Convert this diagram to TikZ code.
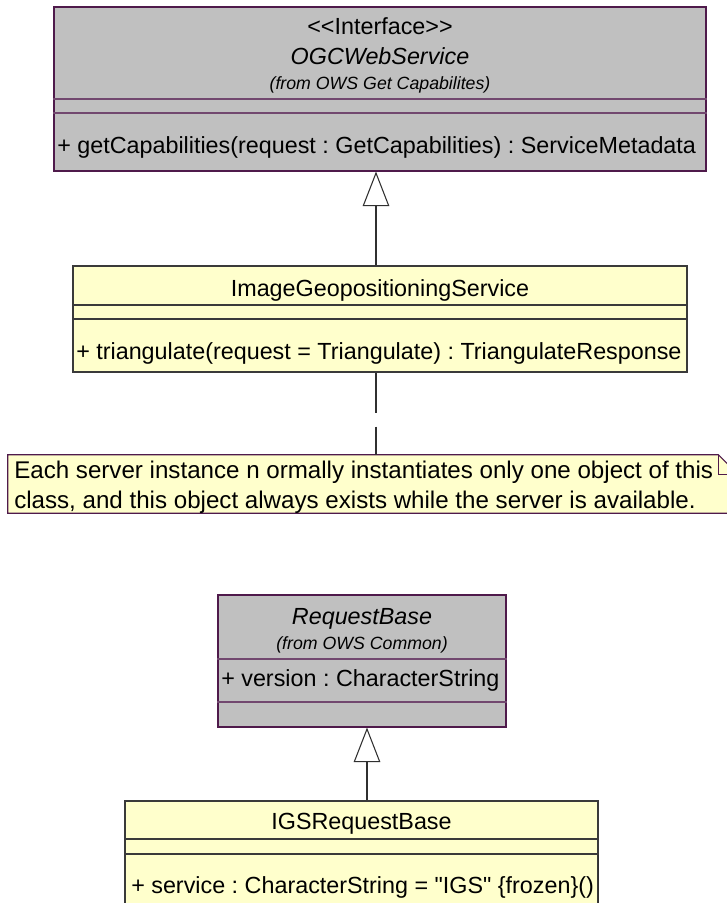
\documentclass[tikz,border=0pt]{standalone}
\usepackage{fontspec}
\setmainfont{Liberation Sans}
\usetikzlibrary{arrows.meta,calc}
\definecolor{ifacegray}{HTML}{C0C0C0}
\definecolor{classyellow}{HTML}{FFFFCC}
\definecolor{roseborder}{HTML}{4F1A4B}
\definecolor{sepline}{HTML}{3A3A3A}
\definecolor{wire}{HTML}{303030}
\frenchspacing
\begin{document}
\begin{tikzpicture}[x=0.75pt,y=-0.75pt,
  classfont/.style={font=\fontsize{17.5}{20}\selectfont},
  namefont/.style={font=\fontsize{17.5}{20}\selectfont\itshape},
  smallfont/.style={font=\fontsize{13.3}{16}\selectfont\itshape},
  notefont/.style={font=\fontsize{18.1}{22}\selectfont},
  ifacebox/.style={draw=roseborder, fill=ifacegray, line width=0.8pt, inner sep=0pt},
  classbox/.style={draw=sepline, fill=classyellow, line width=0.8pt, inner sep=0pt},
  ifacesep/.style={draw=roseborder!80!white, line width=0.8pt},
  classsep/.style={draw=sepline, line width=0.8pt},
  ctext/.style={inner sep=0pt, anchor=base},
  ltext/.style={inner sep=0pt, anchor=base west},
  inherit/.style={draw=wire, line width=0.8pt,
    -{Triangle[length=26pt,width=20pt,fill=white,line width=0.8pt]}},
  anchorline/.style={draw=wire, line width=0.8pt, dash pattern=on 30pt off 10.5pt},
]
\useasboundingbox (0,0) rectangle (727,903);

% ---- OGCWebService interface
\node[ifacebox, minimum width=489pt, minimum height=123pt] (ogc) at (380,89) {};
\draw[ifacesep] (ogc.west |- 0,99) -- (ogc.east |- 0,99);
\draw[ifacesep] (ogc.west |- 0,113) -- (ogc.east |- 0,113);
\node[ctext, classfont] (ogcstereo) at (380,34) {<\kern0pt<Interface>\kern0pt>};
\node[ctext, namefont] (ogcname) at (380,64) {OGCWebService};
\node[ctext, smallfont] (ogcfrom) at (380,89) {(from OWS Get Capabilites)};
\node[ltext, classfont] (ogcop) at (57,153) {+ getCapabilities(request : GetCapabilities) : ServiceMetadata};

% ---- ImageGeopositioningService class
\node[classbox, minimum width=460.5pt, minimum height=79.5pt] (igs) at (380,319) {};
\draw[classsep] (igs.west |- 0,305) -- (igs.east |- 0,305);
\draw[classsep] (igs.west |- 0,319) -- (igs.east |- 0,319);
\node[ctext, classfont] (igsname) at (380,296) {ImageGeopositioningService};
\node[ltext, classfont] (igsop) at (76,359) {+ triangulate(request = Triangulate) : TriangulateResponse};

% ---- note attached to ImageGeopositioningService
\node[inner sep=0pt, minimum width=547.5pt, minimum height=43.5pt] (note) at (373,484) {};
\fill[classyellow] (note.north west) -- ($(note.north east)+(-20,0)$)
  -- ($(note.north east)+(0,20)$) -- (note.south east) -- (note.south west) -- cycle;
\draw[roseborder, line width=0.8pt] (note.north west) -- ($(note.north east)+(-20,0)$)
  -- ($(note.north east)+(0,20)$) -- (note.south east) -- (note.south west) -- cycle;
\draw[roseborder, line width=0.8pt] ($(note.north east)+(-20,0)$)
  -- ($(note.north east)+(-20,20)$) -- ($(note.north east)+(0,20)$);
\node[ltext, notefont] (noteline1) at (14,478) {Each server instance n ormally instantiates only one object of this};
\node[ltext, notefont] (noteline2) at (14,508) {class, and this object always exists while the server is available.};

% ---- RequestBase class
\node[ifacebox, minimum width=216pt, minimum height=99pt] (reqbase) at (362,661) {};
\draw[ifacesep] (reqbase.west |- 0,659) -- (reqbase.east |- 0,659);
\draw[ifacesep] (reqbase.west |- 0,702) -- (reqbase.east |- 0,702);
\node[ctext, namefont] (reqname) at (362,624) {RequestBase};
\node[ctext, smallfont] (reqfrom) at (362,649) {(from OWS Common)};
\node[ltext, classfont] (reqattr) at (221,686) {+ version : CharacterString};

% ---- IGSRequestBase class (runs on past the lower edge)
\node[classbox, minimum width=354.75pt, minimum height=90pt] (igsreq) at (361.5,861) {};
\draw[wire, line width=0.9pt] (igsreq.east |- 0,854) -- (igsreq.south east);
\draw[classsep] (igsreq.west |- 0,839) -- (igsreq.east |- 0,839);
\draw[classsep] (igsreq.west |- 0,854) -- (igsreq.east |- 0,854);
\node[ctext, classfont] (igsreqname) at (361.5,829) {IGSRequestBase};
\node[ltext, classfont] (igsreqattr) at (131,893) {+ service : CharacterString = \textquotedbl IGS\textquotedbl\ \{frozen\}()};

% ---- connectors
\draw[inherit] ([xshift=-3pt]igs.north) -- ([xshift=-3pt]igs.north |- ogc.south);
\draw[anchorline] ([xshift=-3pt]igs.south) -- ([xshift=-3pt]igs.south |- note.north);
\draw[inherit] ([xshift=4.125pt]igsreq.north) -- ([xshift=4.125pt]igsreq.north |- reqbase.south);
\end{tikzpicture}
\end{document}
